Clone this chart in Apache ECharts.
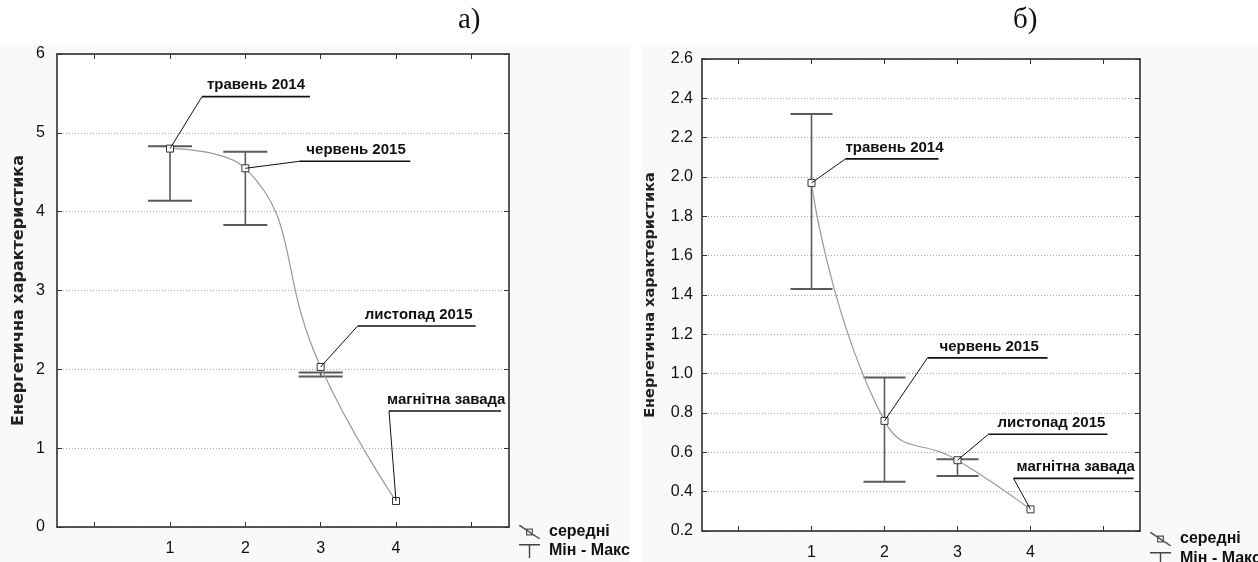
<!DOCTYPE html>
<html><head><meta charset="utf-8">
<script src="https://cdn.jsdelivr.net/npm/echarts@6/dist/echarts.min.js"></script>
<style>html,body{margin:0;padding:0;background:#fff}#c{width:1258px;height:562px}</style>
</head><body><div id="c"></div>
<script>
// ---------- data ----------
const xValues = [1, 2, 3, 4];
const xTickValues = [0, 1, 2, 3, 4, 5];
const xLabelValues = [1, 2, 3, 4];
const annoNames = ['травень 2014', 'червень 2015', 'листопад 2015', 'магнітна завада'];
const meanA = [4.80, 4.55, 2.03, 0.33];
const maxA  = [4.83, 4.76, 1.96, 0.33];
const minA  = [4.14, 3.83, 1.91, 0.33];
const meanB = [1.97, 0.76, 0.56, 0.31];
const maxB  = [2.32, 0.98, 0.565, 0.31];
const minB  = [1.43, 0.45, 0.48, 0.31];
const yAxisA = {min: 0, max: 6, interval: 1};
const yAxisB = {min: 0.2, max: 2.6, interval: 0.2};
const yName = 'Енергетична характеристика';
const legendNames = ['середні', 'Мін - Макс'];
const panelTitles = ['а)', 'б)'];

// ---------- annotation layout (pixel offsets, styling only) ----------
const annoLayoutA = {dx: [32, 54, 37, -7], dy: [-52, -7, -41, -90], len: [108, 111, 118, 112], tdx: [5, 7, 7, -2]};
const annoLayoutB = {dx: [34, 43, 31, -17], dy: [-24, -63, -26, -31], len: [93, 120, 119, 120], tdx: [0, 12, 9, 3]};

const SANS = "'Liberation Sans',Arial,sans-serif";

function errRender(capHalf) {
  return function (params, api) {
    const x = api.value(0);
    if (api.value(1) === api.value(2)) return null;
    const top = api.coord([x, api.value(2)]);
    const bot = api.coord([x, api.value(1)]);
    const st = {stroke: '#5a5a5a', lineWidth: 1.6};
    return {type: 'group', children: [
      {type: 'line', shape: {x1: top[0], y1: top[1], x2: bot[0], y2: bot[1]}, style: st},
      {type: 'line', shape: {x1: top[0] - capHalf, y1: top[1], x2: top[0] + capHalf, y2: top[1]}, style: {stroke: '#5a5a5a', lineWidth: 2}},
      {type: 'line', shape: {x1: bot[0] - capHalf, y1: bot[1], x2: bot[0] + capHalf, y2: bot[1]}, style: {stroke: '#5a5a5a', lineWidth: 2}}
    ]};
  };
}
function annoRender(layout) {
  return function (params, api) {
    const i = params.dataIndex;
    const p = api.coord([api.value(0), api.value(1)]);
    const sx = p[0] + layout.dx[i], sy = p[1] + layout.dy[i];
    return {type: 'group', children: [
      {type: 'line', shape: {x1: p[0], y1: p[1], x2: sx, y2: sy}, style: {stroke: '#111', lineWidth: 1}},
      {type: 'line', shape: {x1: sx, y1: sy, x2: sx + layout.len[i], y2: sy}, style: {stroke: '#111', lineWidth: 1.6}},
      {type: 'text', style: {text: annoNames[i], x: sx + layout.tdx[i], y: sy - 4, textAlign: 'left', textVerticalAlign: 'bottom',
        fill: '#111', font: 'bold 15px ' + SANS}}
    ]};
  };
}

function xAxes(gi) {
  const base = {type: 'value', gridIndex: gi, min: -0.5, max: 5.5,
    axisLine: {show: true, onZero: false, lineStyle: {color: '#222', width: 1.5}},
    splitLine: {show: false}};
  return [
    Object.assign({}, base, {position: 'bottom',
      axisTick: {show: true, inside: true, length: 5, customValues: xTickValues, lineStyle: {color: '#333'}},
      axisLabel: {show: true, customValues: xLabelValues, margin: 14, fontSize: 16, color: '#111', fontFamily: SANS}}),
    Object.assign({}, base, {position: 'top',
      axisTick: {show: true, inside: true, length: 5, customValues: xTickValues, lineStyle: {color: '#333'}},
      axisLabel: {show: false}})
  ];
}
function yAxes(gi, cfg, fmt, nameGap, nameSize, labelMargin) {
  const base = {type: 'value', gridIndex: gi, min: cfg.min, max: cfg.max, interval: cfg.interval,
    axisLine: {show: true, onZero: false, lineStyle: {color: '#222', width: 1.5}},
    axisTick: {show: true, inside: true, length: 5, lineStyle: {color: '#333'}}};
  return [
    Object.assign({}, base, {position: 'left', name: yName, nameLocation: 'middle', nameGap: nameGap,
      nameTextStyle: {fontWeight: 'bold', fontSize: nameSize, color: '#222', fontFamily: "'DejaVu Sans',sans-serif"},
      axisLabel: {show: true, margin: labelMargin, fontSize: 16, color: '#111', fontFamily: SANS, formatter: fmt},
      splitLine: {show: true, lineStyle: {color: '#aaa', type: [1, 2], width: 1}}}),
    Object.assign({}, base, {position: 'right', axisLabel: {show: false}, splitLine: {show: false}})
  ];
}

const legendIconMean = 'path://M0,0 L1.6,0 L24,15 L24,16 L22.4,16 L0,1 Z M8,4 L16,4 L16,12 L8,12 Z M9.4,5.4 L9.4,10.6 L14.6,10.6 L14.6,5.4 Z';
const legendIconErr = 'path://M0,0 L24,0 L24,1.6 L12.8,1.6 L12.8,16 L11.2,16 L11.2,1.6 L0,1.6 Z';

function legendItem(k, left, top) {
  return {left: left, top: top, orient: 'vertical', padding: 0, itemWidth: 23, itemHeight: 14,
    selectedMode: false,
    textStyle: {fontFamily: SANS, fontWeight: 'bold', fontSize: 16, color: '#111', padding: [0, 0, 0, 3]},
    data: [k === 0
      ? {name: legendNames[0], icon: legendIconMean, itemStyle: {color: '#555', borderWidth: 0}}
      : {name: legendNames[1], icon: legendIconErr, itemStyle: {color: '#444', borderWidth: 0}}]};
}

function seriesFor(gi, mean, mn, mx, layout, capHalf) {
  const xi = gi * 2, yi = gi * 2;
  return [
    {type: 'custom', name: legendNames[1], xAxisIndex: xi, yAxisIndex: yi, z: 1,
      itemStyle: {color: '#444'},
      renderItem: errRender(capHalf), encode: {x: 0, y: [1, 2]},
      data: xValues.map((x, i) => [x, mn[i], mx[i]])},
    {type: 'line', name: legendNames[0], xAxisIndex: xi, yAxisIndex: yi, z: 3,
      smooth: 0.5, symbol: 'rect', symbolSize: 7,
      lineStyle: {color: '#9a9a9a', width: 1.2},
      itemStyle: {color: '#fff', borderColor: '#333', borderWidth: 1},
      data: xValues.map((x, i) => [x, mean[i]])},
    {type: 'custom', name: 'anno' + gi, xAxisIndex: xi, yAxisIndex: yi, z: 4, silent: true,
      renderItem: annoRender(layout), encode: {x: 0, y: 1},
      data: xValues.map((x, i) => [x, mean[i]])}
  ];
}

const chart = echarts.init(document.getElementById('c'), null, {renderer: 'canvas'});
chart.setOption({
  animation: false,
  backgroundColor: '#fff',
  graphic: [
    {type: 'rect', z: -100, shape: {x: 0, y: 45, width: 630, height: 517}, style: {fill: '#f9f9f9'}},
    {type: 'rect', z: -100, shape: {x: 641, y: 45, width: 617, height: 517}, style: {fill: '#f9f9f9'}},
    {type: 'text', left: 458, top: 6, style: {text: panelTitles[0], font: '29px "Liberation Serif",serif', fill: '#111'}},
    {type: 'text', left: 1013, top: 6, style: {text: panelTitles[1], font: '29px "Liberation Serif",serif', fill: '#111'}}
  ],
  grid: [
    {left: 57, top: 54, width: 452, height: 473, show: true, backgroundColor: '#fff', borderWidth: 0},
    {left: 702, top: 59, width: 438, height: 472, show: true, backgroundColor: '#fff', borderWidth: 0}
  ],
  xAxis: [].concat(xAxes(0), xAxes(1)),
  yAxis: [].concat(
    yAxes(0, yAxisA, v => String(v), 30, 16, 12),
    yAxes(1, yAxisB, v => v.toFixed(1), 44, 14.5, 9)
  ),
  legend: [legendItem(0, 519, 524), legendItem(1, 519, 543), legendItem(0, 1150, 531), legendItem(1, 1150, 551)],
  series: [].concat(
    seriesFor(0, meanA, minA, maxA, annoLayoutA, 22),
    seriesFor(1, meanB, minB, maxB, annoLayoutB, 21)
  )
});
</script></body></html>
